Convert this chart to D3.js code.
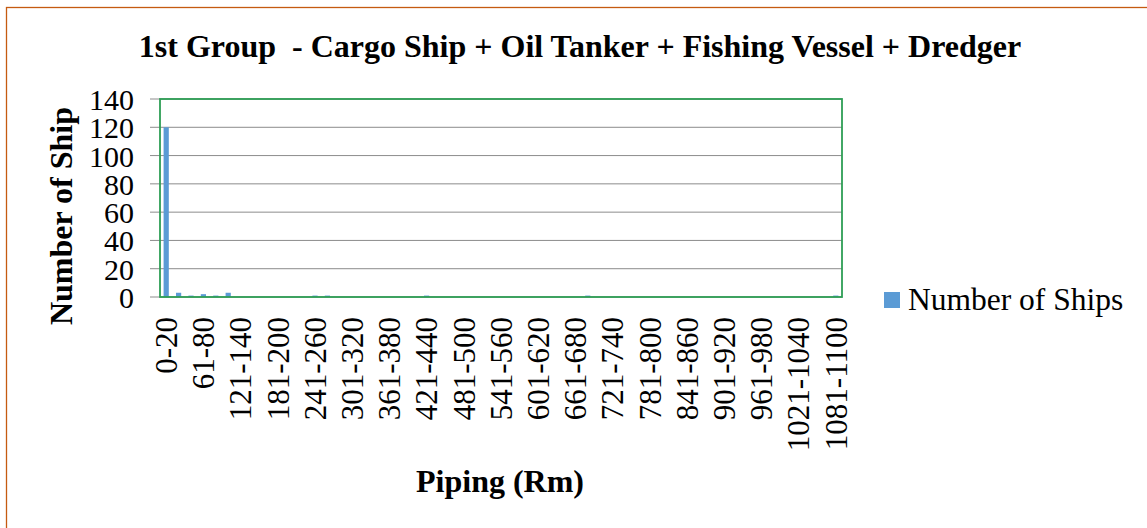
<!DOCTYPE html>
<html lang="en">
<head>
    <meta charset="UTF-8">
    <title>1st Group - Piping</title>
    <script src="https://d3js.org/d3.v7.min.js"></script>
    <style>
        body {
            margin: 0;
            background: #fff;
            font-family: "Liberation Serif", "Times New Roman", serif;
        }
        .title { font-size: 32px; font-weight: bold; }
        .axis-title { font-size: 32px; font-weight: bold; }
        .tick text { font-size: 30px; font-family: "Liberation Serif", serif; fill: #000; }
        .x-axis .tick text { font-size: 31px; }
        .legend text { font-size: 31.5px; }
    </style>
</head>
<body>
<svg id="chart" width="1147" height="528"></svg>
<script>
    // categories: 0-20, 21-40, ..., 1081-1100
    let starts = d3.range(0, 1100, 20)
    let categories = starts.map(function (s) { return (s === 0 ? 0 : s + 1) + "-" + (s + 20) })
    // number of ships per piping class
    let ships = [120, 3, 1, 2, 1, 3, 0, 0, 0, 0, 0, 0, 1, 1, 0, 0, 0, 0, 0, 0,
        0, 1, 0, 0, 0, 0, 0, 0, 0, 0, 0, 0, 0, 0, 1, 0, 0, 0, 0, 0,
        0, 0, 0, 0, 0, 0, 0, 0, 0, 0, 0, 0, 0, 0, 1]
    let yTicks = [0, 20, 40, 60, 80, 100, 120, 140]

    let svg = d3.select("#chart")
    let margin = { left: 160, right: 305, top: 99, bottom: 231 }
    let width = 1147 - margin.left - margin.right
    let height = 528 - margin.top - margin.bottom

    // outer frame
    svg.append("rect")
        .attr("x", 6.5).attr("y", 7.5)
        .attr("width", 1160).attr("height", 540)
        .attr("fill", "none").attr("stroke", "#c55a11").attr("stroke-width", 1.3)

    svg.append("text")
        .attr("class", "title")
        .attr("x", 580).attr("y", 57)
        .attr("text-anchor", "middle")
        .text("1st Group  - Cargo Ship + Oil Tanker + Fishing Vessel + Dredger")
        .style("white-space", "pre")

    let g = svg.append("g").attr("transform", `translate(${margin.left},${margin.top})`)

    let x = d3.scaleBand().domain(categories).range([0, width]).paddingInner(0.58).paddingOuter(0.29)
    let y = d3.scaleLinear().domain([0, 140]).range([height, 0])

    // gridlines
    g.selectAll(".grid")
        .data(yTicks)
        .enter()
        .append("line")
        .attr("x1", -10).attr("x2", width)
        .attr("y1", function (d) { return y(d) })
        .attr("y2", function (d) { return y(d) })
        .attr("stroke", "#8c8c8c").attr("stroke-width", 1)

    // y axis labels
    let yAxis = d3.axisLeft(y).tickValues(yTicks).tickSize(0).tickPadding(26)
    g.append("g").call(yAxis)
        .call(function (a) { a.select(".domain").remove() })
        .selectAll("text").attr("dy", "0.35em")

    // bars
    g.selectAll(".bar")
        .data(ships)
        .enter()
        .append("rect")
        .attr("class", "bar")
        .attr("x", function (d, i) { return x(categories[i]) })
        .attr("width", x.bandwidth())
        .attr("y", function (d) { return y(d) })
        .attr("height", function (d) { return height - y(d) })
        .attr("fill", "#5b9bd5")

    // plot border
    g.append("rect")
        .attr("x", 0).attr("y", 0)
        .attr("width", width).attr("height", height)
        .attr("fill", "none").attr("stroke", "#2e9e55").attr("stroke-width", 1.8)

    // x axis labels, every third class
    let xAxis = d3.axisBottom(x)
        .tickValues(categories.filter(function (d, i) { return i % 3 === 0 }))
        .tickSize(0).tickPadding(0)
    let xg = g.append("g").attr("class", "x-axis").attr("transform", `translate(0,${height})`).call(xAxis)
    xg.select(".domain").remove()
    xg.selectAll("text")
        .attr("transform", "rotate(-90)")
        .attr("text-anchor", "end")
        .attr("x", -20).attr("y", 0).attr("dy", "0.35em")

    svg.append("text")
        .attr("class", "axis-title")
        .attr("transform", "translate(72,216) rotate(-90)")
        .attr("text-anchor", "middle")
        .text("Number of Ship")

    svg.append("text")
        .attr("class", "axis-title")
        .attr("x", 500).attr("y", 492)
        .attr("text-anchor", "middle")
        .text("Piping (Rm)")

    // legend
    let legend = svg.append("g").attr("class", "legend").attr("transform", "translate(884,292)")
    legend.append("rect").attr("width", 16).attr("height", 16).attr("fill", "#5b9bd5")
    legend.append("text").attr("x", 24).attr("y", 18).text("Number of Ships")
</script>
</body>
</html>
